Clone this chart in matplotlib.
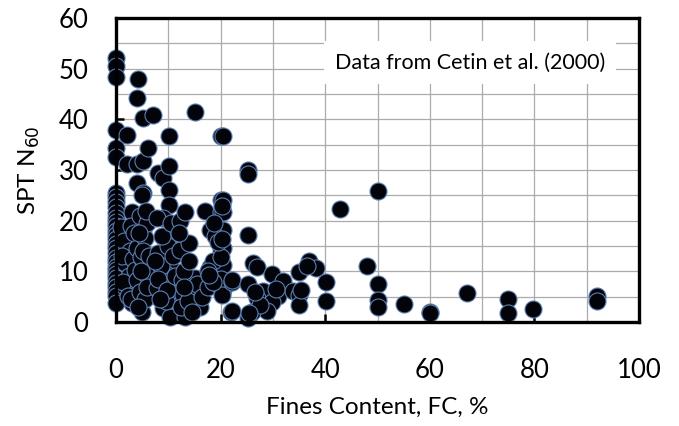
import matplotlib

matplotlib.use("Agg")

import matplotlib.pyplot as plt
from matplotlib.ticker import MultipleLocator

# Fines content (%) and SPT blow count for each case history
fines_content = [
    0, 0, 0, 0, 0, 0, 0, 0, 0, 0, 0, 0, 0, 0, 0, 0, 0, 0, 0, 0, 0, 0, 0, 0, 0, 0, 0, 0, 0, 0, 0,
    1.0, 1.5, 2.1, 2.1, 1.7, 1.7, 2.5, 3.0, 3.0, 2.6, 1.2, 2.8, 1.3, 3.2, 2.2, 2.9, 3.5, 3.6,
    4.2, 4.0, 5.1, 4.0, 5.2, 6.1, 4.0, 5.1, 5.0, 5.2, 4.0, 5.2, 4.0, 5.0, 4.5, 5.5, 4.8, 5.8,
    4.5, 5.5, 6.0, 6.0, 4.2, 5.2, 4.7, 6.3, 4.3, 5.8,
    7.1, 8.1, 9.0, 10.2, 10.2, 10.2, 10.2, 9.0, 7.8, 11.0, 8.1, 10.3, 10.3, 7.8, 9.0, 10.3,
    9.5, 8.5, 10.0, 8.0, 10.5, 9.5, 8.8, 10.8, 7.5, 9.8, 11.3, 8.3, 10.5,
    12.2, 13.2, 12.2, 12.6, 15.0, 12.8, 14.8, 13.2, 16.0, 15.1, 13.0, 14.0, 12.5, 13.8, 15.5,
    14.0, 12.0, 13.0, 16.5, 14.6,
    17.0, 20.0, 20.0, 18.0, 20.0, 20.0, 18.0, 20.0, 17.6, 20.0, 20.1, 20.4, 20.4, 20.4, 20.4,
    20.4, 20.4, 20.4, 18.5, 19.0, 17.5, 20.0, 18.7, 20.0, 19.5, 20.2, 18.5, 20.3, 20.2, 17.8,
    22.2, 22.0, 22.2, 22.2, 25.2, 25.2, 25.2, 26.2, 27.0, 25.2, 28.1, 27.0, 31.0, 29.8, 28.9,
    25.2, 29.8, 32.0, 33.9, 35.0, 35.0, 35.0, 36.9, 38.2, 40.2, 40.2, 26.0, 27.5, 25.5, 36.5,
    35.3, 26.5, 30.5, 42.8, 48.0, 50.0, 50.0, 50.0, 50.0, 55.0, 60.0, 60.0, 67.1, 75.0, 75.0,
    79.8, 92.0, 92.0,
]
spt_n60 = [
    52.0, 50.5, 48.3, 37.9, 34.3, 32.6, 25.4, 24.7, 23.6, 22.7, 21.6, 20.6, 19.8, 18.9, 17.9,
    17.2, 16.3, 15.4, 14.6, 13.7, 12.6, 11.9, 10.9, 10.3, 9.4, 8.6, 7.8, 7.0, 6.0, 5.2, 3.7,
    18.7, 16.0, 36.9, 31.2, 11.6, 6.9, 9.0, 21.7, 3.7, 14.0, 13.0, 19.0, 8.0, 12.5, 5.2, 4.5,
    17.5, 10.2,
    47.9, 44.2, 40.2, 31.2, 31.8, 34.3, 27.4, 25.4, 25.0, 18.1, 14.6, 11.8, 8.3, 2.0, 21.0,
    16.5, 12.9, 9.5, 6.0, 4.5, 7.0, 19.5, 3.0, 14.0, 10.0, 13.0, 17.5, 22.0,
    40.8, 29.4, 28.4, 36.7, 30.8, 26.0, 23.0, 20.5, 20.5, 17.5, 13.6, 11.2, 7.7, 6.7, 2.8, 1.0,
    9.5, 11.0, 15.0, 8.5, 5.0, 4.2, 17.0, 13.0, 12.0, 6.3, 9.0, 4.5, 19.5,
    20.0, 21.7, 14.2, 8.3, 8.7, 5.3, 6.3, 1.0, 3.0, 41.4, 10.0, 12.0, 3.0, 4.2, 7.5,
    15.5, 17.5, 7.0, 5.0, 2.0,
    22.0, 24.0, 21.7, 18.1, 18.0, 14.2, 10.8, 10.8, 6.9, 6.7, 36.7, 36.7, 24.0, 21.7, 18.1,
    14.6, 11.2, 6.3, 12.0, 17.0, 10.0, 8.5, 19.5, 12.8, 15.8, 5.3, 8.0, 16.3, 22.8, 9.2,
    7.9, 2.0, 8.3, 2.2, 30.0, 29.2, 17.2, 11.7, 10.8, 7.5, 6.1, 4.7, 5.1, 4.0, 2.2,
    0.8, 9.5, 8.1, 6.1, 9.9, 5.3, 3.4, 12.0, 10.7, 7.9, 4.1, 2.0, 3.4, 1.8, 11.0,
    6.3, 6.0, 6.5, 22.3, 11.0, 25.9, 7.5, 4.3, 3.0, 3.5, 2.0, 1.7, 5.7, 4.5, 1.8,
    2.5, 5.1, 4.1,
]

plt.rcParams["font.family"] = ["Lato", "DejaVu Sans"]

fig = plt.figure(figsize=(6.79, 4.26), dpi=100)
ax = fig.add_axes([0.171, 0.244, 0.770, 0.714])

ax.scatter(fines_content, spt_n60, s=150, facecolor="#03030a",
           edgecolor="#5b7fb2", linewidth=0.8, zorder=3, clip_on=False)

ax.set_xlim(0, 100)
ax.set_ylim(0, 60)
ax.xaxis.set_major_locator(MultipleLocator(20))
ax.xaxis.set_minor_locator(MultipleLocator(10))
ax.yaxis.set_major_locator(MultipleLocator(10))
ax.yaxis.set_minor_locator(MultipleLocator(5))

ax.grid(which="both", color="#ababab", linewidth=0.9, zorder=0)
ax.set_axisbelow(True)

for spine in ax.spines.values():
    spine.set_linewidth(2.4)
    spine.set_color("black")
    spine.set_zorder(4)

ax.tick_params(axis="both", which="major", direction="in", length=6, width=1.8,
               labelsize=18.5, colors="black")
ax.tick_params(axis="both", which="minor", length=0)
ax.tick_params(axis="x", pad=26)
ax.tick_params(axis="y", pad=20)

ax.set_xlabel("Fines Content, FC, %", fontsize=17.5, labelpad=10)
ax.set_ylabel(r"SPT N$_{60}$", fontsize=17.5, labelpad=12)

ax.text(67.7, 51.2, "Data from Cetin et al. (2000)", fontsize=15.5,
        ha="center", va="center", zorder=2,
        bbox=dict(facecolor="white", edgecolor="none", pad=8))

fig.savefig("out.png", dpi=100)
